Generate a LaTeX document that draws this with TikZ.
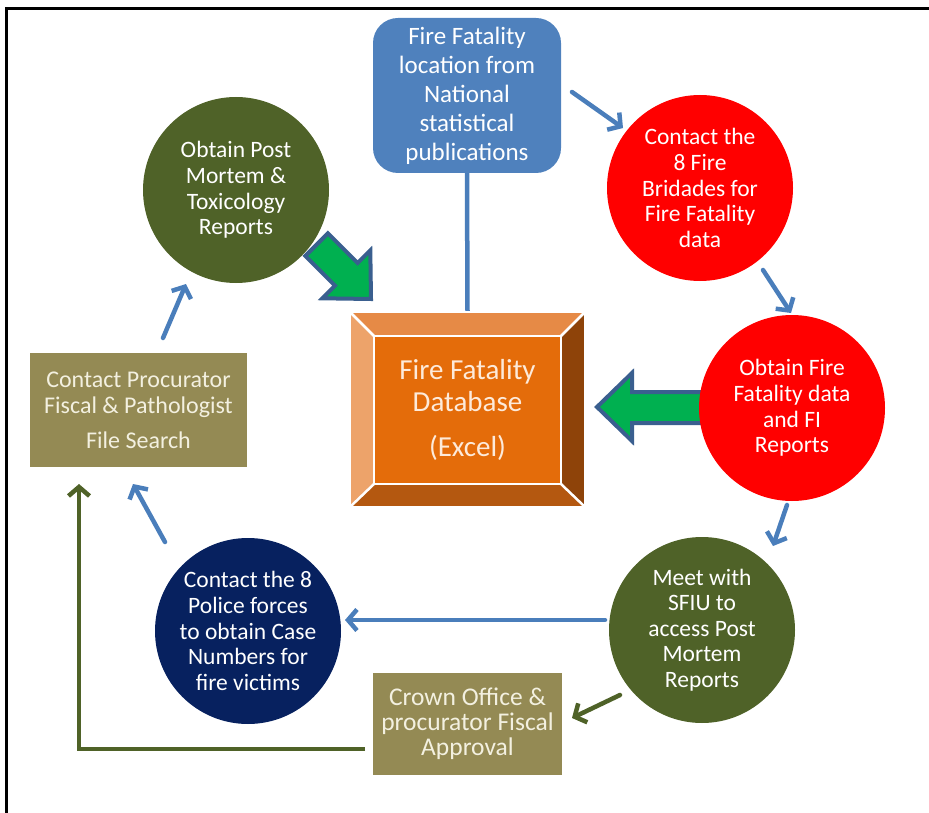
\documentclass[tikz,border=0pt]{standalone}
\usepackage{fontspec}
\setmainfont{Carlito}
\usetikzlibrary{arrows.meta}
\definecolor{boxblue}{HTML}{4F81BD}
\definecolor{arrblue}{HTML}{4A7EBB}
\definecolor{firered}{HTML}{FF0000}
\definecolor{olivegreen}{HTML}{4F6228}
\definecolor{navy}{HTML}{07215F}
\definecolor{khaki}{HTML}{948A54}
\definecolor{khakitext}{HTML}{F3F0E0}
\definecolor{blockgreen}{HTML}{00B050}
\definecolor{blockedge}{HTML}{3A5F8F}
\definecolor{dbtop}{HTML}{E68A46}
\definecolor{dbleft}{HTML}{EDA36A}
\definecolor{dbright}{HTML}{8E4309}
\definecolor{dbbottom}{HTML}{B45810}
\definecolor{dbcenter}{HTML}{E46C0A}
\definecolor{dbtext}{HTML}{FDEADA}
\tikzset{
  bluebox/.style={fill=boxblue, text=white, rounded corners=25pt, minimum width=188pt, minimum height=155pt, align=center, inner sep=0pt, font=\fontsize{25}{29}\selectfont},
  disc/.style={circle, minimum size=186pt, inner sep=0pt, text=white, align=center, font=\fontsize{23.5}{25.6}\selectfont},
  khakibox/.style={fill=khaki, text=khakitext, align=center, inner sep=0pt},
  bluearrow/.style={draw=arrblue, line width=4.5pt, line cap=round, -{Straight Barb[length=9pt,width=21pt]}},
  greenarrow/.style={draw=olivegreen, line width=4.5pt, line cap=round, -{Straight Barb[length=9pt,width=21pt]}},
  blueline/.style={draw=arrblue, line width=4.5pt},
  bevel/.style={draw=white, line width=2.5pt, line join=miter},
  blockborder/.style={draw=blockedge, line width=4pt, line join=miter},
}
\begin{document}
\begin{tikzpicture}[x=1pt,y=-1pt]
\useasboundingbox (0,0) rectangle (929,813);
\draw[line width=3pt] (6.5,813) -- (6.5,8.5) -- (929,8.5);

% source box
\node[bluebox] (src) at (467,95.5) {Fire Fatality\\location from\\National\\statistical\\publications};

% database box (bevel)
\node[minimum width=235pt, minimum height=195pt, inner sep=0pt] (db) at (467.5,409.5) {};
\draw[blueline] (src.south) -- (db.north);
\fill[dbtop] (350,312) -- (585,312) -- (561,336) -- (374,336) -- cycle;
\fill[dbright] (585,312) -- (585,507) -- (561,484) -- (561,336) -- cycle;
\fill[dbbottom] (585,507) -- (350,507) -- (374,484) -- (561,484) -- cycle;
\fill[dbleft] (350,507) -- (350,312) -- (374,336) -- (374,484) -- cycle;
\fill[dbcenter] (374,336) rectangle (561,484);
\draw[bevel] (350,312) rectangle (585,507);
\draw[bevel] (374,336) rectangle (561,484);
\draw[bevel] (350,312) -- (374,336) (585,312) -- (561,336) (585,507) -- (561,484) (350,507) -- (374,484);
\node[text=dbtext, align=center, font=\fontsize{29}{32}\selectfont] (dbt) at (db.center) {Fire Fatality\\Database\\[13pt](Excel)};

% block arrows
\fill[blockgreen] (706,392) -- (632,392) -- (632,373) -- (597,407) -- (632,441) -- (632,423) -- (706,423) -- cycle;
\draw[blockborder] (706,392) -- (632,392) -- (632,373) -- (597,407) -- (632,441) -- (632,423) -- (706,423);
\filldraw[fill=blockgreen, blockborder] (327.9,233.3) -- (357.6,263) -- (370.3,250.3) -- (371,299) -- (322.3,298.3) -- (335,285.6) -- (305.3,255.9) -- cycle;

% circles
\node[disc, fill=firered] (fb) at (700,188) {Contact the\\8 Fire\\Bridades for\\Fire Fatality\\data};
\node[disc, fill=firered] (fd) at (792,408) {Obtain Fire\\Fatality data\\and FI\\Reports};
\node[disc, fill=olivegreen] (sfiu) at (702,630) {Meet with\\SFIU to\\access Post\\Mortem\\Reports};
\node[disc, fill=navy] (police) at (248,631) {Contact the 8\\Police forces\\to obtain Case\\Numbers for\\fire victims};
\node[disc, fill=olivegreen] (pm) at (236,190) {Obtain Post\\Mortem \&\\Toxicology\\Reports};

% khaki boxes
\node[khakibox, minimum width=217pt, minimum height=114pt, font=\fontsize{24}{26}\selectfont] (pf) at (138.5,410) {Contact Procurator\\Fiscal \& Pathologist\\[9pt]File Search};
\node[khakibox, minimum width=189pt, minimum height=102pt, font=\fontsize{25.5}{25}\selectfont] (co) at (467.5,724) {Crown Office \&\\procurator Fiscal\\Approval};

% connector end points
\coordinate (a1s) at (572,92);   \coordinate (a1e) at (623,128);
\coordinate (a2s) at (763,270);  \coordinate (a2e) at (791,313);
\coordinate (a3s) at (787,505);  \coordinate (a3e) at (773,546);
\coordinate (a4s) at (605,620);  \coordinate (a4e) at (345,620);
\coordinate (a5s) at (165,542);  \coordinate (a5e) at (133,484);
\coordinate (a6s) at (163,338);  \coordinate (a6e) at (186,284);
\coordinate (g1s) at (620,695);  \coordinate (g1e) at (572,718);
\coordinate (g2s) at (365,749);  \coordinate (g2e) at (79,484);

\draw[bluearrow] (a1s) -- (a1e);
\draw[bluearrow] (a2s) -- (a2e);
\draw[bluearrow] (a3s) -- (a3e);
\draw[bluearrow] (a4s) -- (a4e);
\draw[bluearrow] (a5s) -- (a5e);
\draw[bluearrow] (a6s) -- (a6e);
\draw[greenarrow] (g1s) -- (g1e);
\draw[greenarrow, line cap=butt, line join=miter] (g2s) -| (g2e);
\end{tikzpicture}
\end{document}
